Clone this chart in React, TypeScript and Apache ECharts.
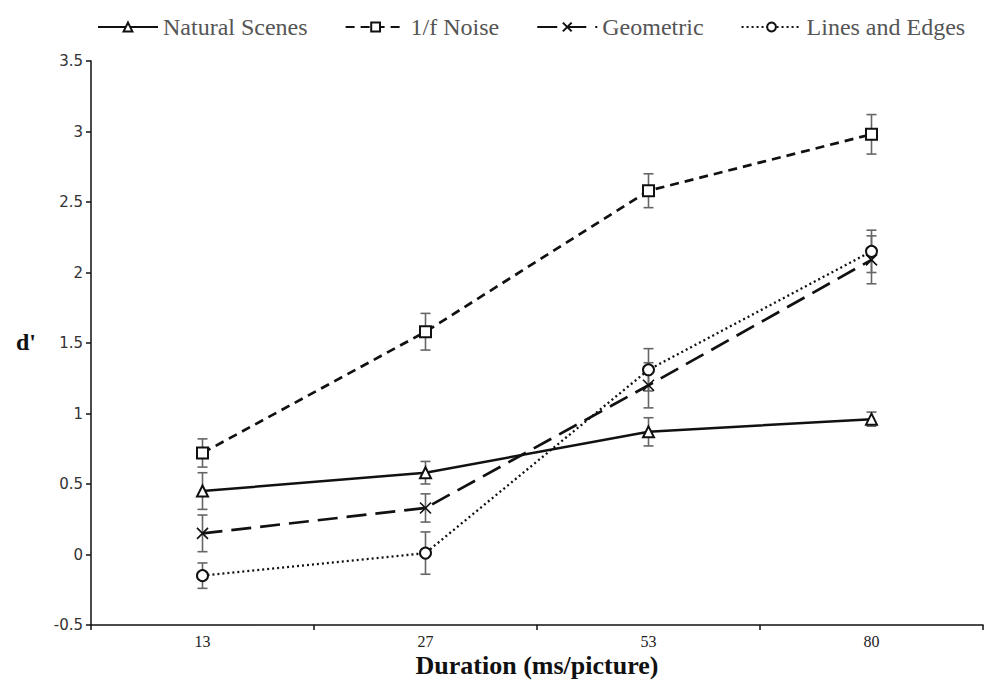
import React, { useEffect, useRef } from "react";
import * as echarts from "echarts";

const categories = ["13", "27", "53", "80"];
const naturalScenes = [0.45, 0.58, 0.87, 0.96];
const naturalErr = [0.13, 0.08, 0.1, 0.05];
const noise = [0.72, 1.58, 2.58, 2.98];
const noiseErr = [0.1, 0.13, 0.12, 0.14];
const geometric = [0.15, 0.33, 1.2, 2.09];
const geometricErr = [0.13, 0.1, 0.16, 0.17];
const linesEdges = [-0.15, 0.01, 1.31, 2.15];
const linesErr = [0.09, 0.15, 0.15, 0.15];
const yTicks = { min: -0.5, max: 3.5, interval: 0.5 };

const serif = "'Liberation Serif', 'Times New Roman', serif";
const INK = "#111";

function errSeries(name: string, vals: number[], errs: number[]) {
  return {
    name,
    type: "custom",
    z: 1,
    silent: true,
    encode: { x: 0, y: 1 },
    data: vals.map((v, i) => [i, v, errs[i]]),
    renderItem: (params: any, api: any) => {
      const i = api.value(0);
      const v = api.value(1);
      const e = api.value(2);
      const top = api.coord([i, v + e]);
      const bot = api.coord([i, v - e]);
      const style = { stroke: "#666", lineWidth: 1.6 };
      const hw = 5;
      return {
        type: "group",
        children: [
          { type: "line", shape: { x1: top[0], y1: top[1], x2: bot[0], y2: bot[1] }, style },
          { type: "line", shape: { x1: top[0] - hw, y1: top[1], x2: top[0] + hw, y2: top[1] }, style },
          { type: "line", shape: { x1: bot[0] - hw, y1: bot[1], x2: bot[0] + hw, y2: bot[1] }, style },
        ],
      };
    },
  };
}

function lineSeries(name: string, vals: number[], symbol: string, lineType: any, width: number) {
  return {
    name,
    type: "line",
    z: 3,
    data: vals,
    symbol,
    symbolSize: 11,
    showSymbol: true,
    lineStyle: { color: INK, width, type: lineType },
    itemStyle: { color: INK, borderColor: INK, borderWidth: 1.6 },
  };
}

export default function App() {
  const ref = useRef<HTMLDivElement>(null);
  useEffect(() => {
    if (!ref.current) return;
    document.body.style.margin = "0";
    const chart = echarts.init(ref.current, undefined, { renderer: "svg" });
    chart.setOption({
      animation: false,
      backgroundColor: "#fff",
      grid: { left: 91, right: 4, top: 61, bottom: 64 },
      legend: {
        left: 92,
        top: 10,
        itemWidth: 60,
        itemHeight: 11,
        itemGap: 37,
        data: ["Natural Scenes", "1/f Noise", "Geometric", "Lines and Edges"],
        textStyle: { fontFamily: serif, fontSize: 24, color: "#555" },
      },
      graphic: [
        {
          type: "text",
          left: 16,
          top: 330,
          style: { text: "d'", font: `bold 24px ${serif}`, fill: INK },
        },
      ],
      xAxis: {
        type: "category",
        data: categories,
        boundaryGap: true,
        name: "Duration (ms/picture)",
        nameLocation: "middle",
        nameGap: 27,
        nameMoveOverlap: false,
        nameTextStyle: { fontFamily: serif, fontSize: 26, fontWeight: "bold", color: INK },
        axisLine: { onZero: false, lineStyle: { color: INK, width: 1.5 } },
        axisTick: { show: true, alignWithLabel: false, length: 5, lineStyle: { color: INK, width: 1.5 } },
        axisLabel: { fontFamily: serif, fontSize: 16, color: "#222", margin: 8 },
        splitLine: { show: false },
      },
      yAxis: {
        type: "value",
        min: yTicks.min,
        max: yTicks.max,
        interval: yTicks.interval,
        axisLine: { show: true, lineStyle: { color: INK, width: 1.5 } },
        axisTick: { show: true, length: 5, lineStyle: { color: INK, width: 1.5 } },
        axisLabel: { fontFamily: "'DejaVu Sans', sans-serif", fontSize: 15, color: "#333", margin: 8 },
        splitLine: { show: false },
      },
      series: [
        errSeries("err-ns", naturalScenes, naturalErr),
        errSeries("err-noise", noise, noiseErr),
        errSeries("err-geo", geometric, geometricErr),
        errSeries("err-lines", linesEdges, linesErr),
        lineSeries("Natural Scenes", naturalScenes, "emptyTriangle", "solid", 2.5),
        lineSeries("1/f Noise", noise, "emptyRect", [9, 6], 2.7),
        lineSeries("Geometric", geometric, "path://M0,0L10,10M10,0L0,10", [20, 9], 2.7),
        lineSeries("Lines and Edges", linesEdges, "emptyCircle", [2, 3], 2.3),
      ],
    });
    return () => chart.dispose();
  }, []);
  return <div ref={ref} style={{ width: 987, height: 689 }} />;
}
